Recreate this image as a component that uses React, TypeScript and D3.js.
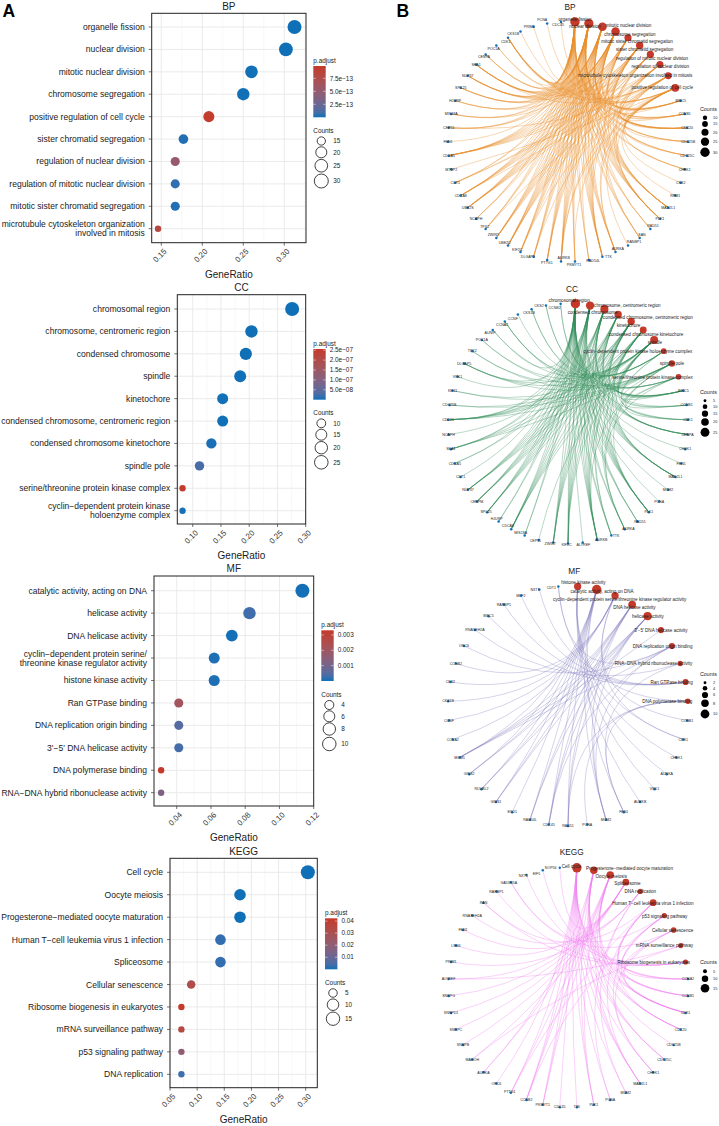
import React from "react";
import * as d3 from "d3";

const FONT = "'Liberation Sans', Arial, sans-serif";
const BLUE = "#0F70B7";
const RED = "#C5392A";

/* ---------- dot plot data ---------- */
const bpTerms = ["organelle fission","nuclear division","mitotic nuclear division","chromosome segregation","positive regulation of cell cycle","sister chromatid segregation","regulation of nuclear division","regulation of mitotic nuclear division","mitotic sister chromatid segregation","microtubule cytoskeleton organization\ninvolved in mitosis"];
const bpRatios = [0.3125,0.302,0.26,0.25,0.208,0.177,0.167,0.167,0.167,0.146];
const bpCounts = [30,29,25,24,20,17,16,16,16,14];
const bpPadj = [1e-15,1e-15,2e-15,2e-15,9.6e-13,2e-14,5.2e-13,4e-14,2e-14,8.3e-13];

const ccTerms = ["chromosomal region","chromosome, centromeric region","condensed chromosome","spindle","kinetochore","condensed chromosome, centromeric region","condensed chromosome kinetochore","spindle pole","serine/threonine protein kinase complex","cyclin\u2212dependent protein kinase\nholoenzyme complex"];
const ccRatios = [0.276,0.204,0.194,0.184,0.153,0.153,0.133,0.112,0.082,0.082];
const ccCounts = [27,20,19,18,15,15,13,11,8,8];
const ccPadj = [1e-12,1e-11,1e-11,1e-10,3e-10,1e-10,2e-9,2.6e-8,2.5e-7,1.5e-9];

const mfTerms = ["catalytic activity, acting on DNA","helicase activity","DNA helicase activity","cyclin\u2212dependent protein serine/\nthreonine kinase regulator activity","histone kinase activity","Ran GTPase binding","DNA replication origin binding","3'\u22125' DNA helicase activity","DNA polymerase binding","RNA\u2212DNA hybrid ribonuclease activity"];
const mfRatios = [0.1134,0.0825,0.0722,0.0619,0.0619,0.0412,0.0412,0.0412,0.0309,0.0309];
const mfCounts = [11,8,7,6,6,4,4,4,3,3];
const mfPadj = [1e-5,2.6e-4,1e-5,5e-5,5e-5,0.0021,5e-4,3e-4,0.0033,0.0012];

const keggTerms = ["Cell cycle","Oocyte meiosis","Progesterone\u2212mediated oocyte maturation","Human T\u2212cell leukemia virus 1 infection","Spliceosome","Cellular senescence","Ribosome biogenesis in eukaryotes","mRNA surveillance pathway","p53 signaling pathway","DNA replication"];
const keggRatios = [0.304,0.179,0.179,0.143,0.143,0.089,0.071,0.071,0.071,0.071];
const keggCounts = [17,10,10,8,8,5,4,4,4,4];
const keggPadj = [1e-10,1e-5,1e-5,0.002,0.002,0.032,0.042,0.034,0.02,0.003];

const bpTicks = [0.15,0.2,0.25,0.3];
const ccTicks = [0.1,0.15,0.2,0.25,0.3];
const mfTicks = [0.04,0.06,0.08,0.1,0.12];
const keggTicks = [0.05,0.1,0.15,0.2,0.25,0.3];

const bpColorTicks = [[7.5e-13,"7.5e\u221213"],[5e-13,"5.0e\u221213"],[2.5e-13,"2.5e\u221213"]] as [number,string][];
const ccColorTicks = [[2.5e-7,"2.5e\u221207"],[2e-7,"2.0e\u221207"],[1.5e-7,"1.5e\u221207"],[1e-7,"1.0e\u221207"],[5e-8,"5.0e\u221208"]] as [number,string][];
const mfColorTicks = [[0.003,"0.003"],[0.002,"0.002"],[0.001,"0.001"]] as [number,string][];
const keggColorTicks = [[0.04,"0.04"],[0.03,"0.03"],[0.02,"0.02"],[0.01,"0.01"]] as [number,string][];

const bpSizeLegend = [15,20,25,30];
const ccSizeLegend = [10,15,20,25];
const mfSizeLegend = [4,6,8,10];
const keggSizeLegend = [5,10,15];

/* ---------- dot plot layout ---------- */
const dotPanels = [
  { title:"BP", terms:bpTerms, ratios:bpRatios, counts:bpCounts, padj:bpPadj, ticks:bpTicks, step:0.05,
    box:[151.7,306,13.3,242.7], xDom:[0.1383,0.3265], rows:[27,228.7], padjMax:9.87e-13, colorTicks:bpColorTicks, sizes:bpSizeLegend,
    barX:313.3, barY:[66,117.3], sizeY:[141,152.3,165.7,181], countsY:130.7, fmt:".2f" },
  { title:"CC", terms:ccTerms, ratios:ccRatios, counts:ccCounts, padj:ccPadj, ticks:ccTicks, step:0.05,
    box:[177.3,305.7,294.7,524], xDom:[0.0727,0.3], rows:[309,510.7], padjMax:2.56e-7, colorTicks:ccColorTicks, sizes:ccSizeLegend,
    barX:313.3, barY:[349,399.7], sizeY:[423.3,434.7,447.7,462.3], countsY:413, fmt:".2f" },
  { title:"MF", terms:mfTerms, ratios:mfRatios, counts:mfCounts, padj:mfPadj, ticks:mfTicks, step:0.02,
    box:[154,313.7,576,806], xDom:[0.02674,0.12], rows:[590.7,792.7], padjMax:0.0033, colorTicks:mfColorTicks, sizes:mfSizeLegend,
    barX:321.3, barY:[630.3,681], sizeY:[705,716.3,729,744], countsY:694.7, fmt:".2f" },
  { title:"KEGG", terms:keggTerms, ratios:keggRatios, counts:keggCounts, padj:keggPadj, ticks:keggTicks, step:0.05,
    box:[170,317.3,858.3,1087.7], xDom:[0.05,0.3214], rows:[872.3,1074.3], padjMax:0.0423, colorTicks:keggColorTicks, sizes:keggSizeLegend,
    barX:325, barY:[918.3,969.3], sizeY:[993,1004.7,1018.7], countsY:982.7, fmt:".2f" },
];

const colorScale = d3.scaleLinear<string>().domain([0,1]).range([BLUE,RED]).interpolate(d3.interpolateLab);

function DotPanel({ p }: { p: any }) {
  const [l,r,t,b] = p.box;
  const x = d3.scaleLinear().domain(p.xDom).range([l,r]);
  const y = d3.scalePoint<string>().domain(p.terms).range(p.rows);
  const cMin = d3.min(p.counts as number[])!, cMax = d3.max(p.counts as number[])!;
  const size = d3.scaleSqrt().domain([0,cMax-cMin]).range([3.2,7]);
  const rad = (c:number)=>size(Math.max(0,c-cMin));
  const col = (v:number)=>colorScale(v/p.padjMax);
  const barLeg = d3.scaleLinear().domain([0,p.padjMax]).range([p.barY[1],p.barY[0]]);
  const first = p.ticks[0]-p.step*3;
  const minor = d3.range(0,12).map(i=>first+p.step*(i+0.5)).filter(v=>x(v)>l&&x(v)<r);
  const gid = "grad"+p.title;
  const fmt = d3.format(p.fmt);
  return (
    <g fontFamily={FONT}>
      <defs>
        <linearGradient id={gid} x1="0" x2="0" y1="1" y2="0">
          {d3.range(0,1.001,0.1).map(o=><stop key={o} offset={o} stopColor={colorScale(o)} />)}
        </linearGradient>
      </defs>
      <text x={(l+r)/2} y={t-3.6} textAnchor="middle" fontSize={10} fill="#222">{p.title}</text>
      <rect x={l} y={t} width={r-l} height={b-t} fill="#fff"/>
      {minor.map((v:number,i:number)=><line key={i} x1={x(v)} x2={x(v)} y1={t} y2={b} stroke="#f0f0f0" strokeWidth={0.5}/>)}
      {p.ticks.map((v:number)=>x(v)<r-0.5?<line key={v} x1={x(v)} x2={x(v)} y1={t} y2={b} stroke="#e8e8e8" strokeWidth={0.9}/>:null)}
      {p.terms.map((s:string)=><line key={s} x1={l} x2={r} y1={y(s)} y2={y(s)} stroke="#e8e8e8" strokeWidth={0.9}/>)}
      {p.terms.map((s:string,i:number)=><circle key={s} cx={x(p.ratios[i])} cy={y(s)} r={rad(p.counts[i])} fill={col(p.padj[i])}/>)}
      <rect x={l} y={t} width={r-l} height={b-t} fill="none" stroke="#222" strokeWidth={1}/>
      {p.terms.map((s:string)=><line key={s} x1={l-3} x2={l} y1={y(s)} y2={y(s)} stroke="#333" strokeWidth={0.7}/>)}
      {p.terms.map((s:string)=>{
        const parts = s.split("\n");
        return <text key={s} textAnchor="end" fontSize={8.55} fill="#1a1a1a">
          {parts.map((q,j)=><tspan key={j} x={l-7} y={y(s)!+3+(j-(parts.length-1)/2)*9}>{q}</tspan>)}
        </text>;
      })}
      {p.ticks.map((v:number)=><g key={v}>
        <line x1={x(v)} x2={x(v)} y1={b} y2={b+3} stroke="#333" strokeWidth={0.7}/>
        <text transform={`translate(${x(v)+3},${b+6.5}) rotate(-45)`} textAnchor="end" dy="0.5em" fontSize={7.9} fill="#333">{fmt(v)}</text>
      </g>)}
      <text x={(l+r)/2} y={b+35.4} textAnchor="middle" fontSize={10} fill="#1a1a1a">GeneRatio</text>
      <text x={p.barX} y={p.barY[0]-3} fontSize={6.4} fill="#222">p.adjust</text>
      <rect x={p.barX} y={p.barY[0]} width={12.4} height={p.barY[1]-p.barY[0]} fill={`url(#${gid})`}/>
      {p.colorTicks.map(([v,s]:[number,string])=><g key={s}>
        <line x1={p.barX} x2={p.barX+2.5} y1={barLeg(v)} y2={barLeg(v)} stroke="#fff" strokeWidth={0.5}/>
        <line x1={p.barX+9.9} x2={p.barX+12.4} y1={barLeg(v)} y2={barLeg(v)} stroke="#fff" strokeWidth={0.5}/>
        <text x={p.barX+16.4} y={barLeg(v)+2.2} fontSize={6.4} fill="#222">{s}</text>
      </g>)}
      <text x={p.barX} y={p.countsY+2.2} fontSize={6.4} fill="#222">Counts</text>
      {p.sizes.map((c:number,i:number)=><g key={c}>
        <circle cx={p.barX+8} cy={p.sizeY[i]} r={rad(c)} fill="#fff" stroke="#111" strokeWidth={0.8}/>
        <text x={p.barX+20} y={p.sizeY[i]+2.2} fontSize={6.4} fill="#222">{c}</text>
      </g>)}
    </g>
  );
}

/* ---------- network data: categories, genes, per-gene category membership ---------- */
const bpCats = ["organelle fission","nuclear division","mitotic nuclear division","chromosome segregation","mitotic sister chromatid segregation","sister chromatid segregation","regulation of mitotic nuclear division","regulation of nuclear division","microtubule cytoskeleton organization involved in mitosis","positive regulation of cell cycle"];
const bpCatCounts = [30,29,25,24,16,17,16,16,14,20];
const bpGenes = ["BIRC5","CCNB1","CDC20","CDC25B","CDC25C","CHEK1","CKS2","RRM1","MAD2L1","PLK1","RAD51","SAN","RANBP1","AURKA","TTK","RAD54L","PKMYT1","AURKB","PTTG1","DLGAP5","KIF2C","UBE2C","ZWINT","TPX2","NCAPH","UBE2S","CDCA8","CDT1","MTBP2","CDCA5","FEN1","CEP55","MIS18A","HJURP","SPC25","NUP37","SKA1","CENPA","POC1A","CDK1","CKS1B","PRIM1","PCNA","CDC45"];
const bpMembership = ["0123458","012679","01234567","0129","0129","019","9","9","01234567","012345789","013","0135","9","012389","01234567","013","0129","01234589","012345","01238","012358","01234567","0123456","0128","013","01234567","0123458","0167","9","01234567","1","0128","013","013","0123","012345","0123458","013","08","0126789","9","0","9","9"];
const bpCatNudge = [[0,-3],[-4,3.3],[26,-1],[14.3,2.7],[9,4],[5,4],[1.7,3.7],[0.3,1.7],[-33,0],[-13,0]];
const bpGeneNudge: Record<string,number[]> = {RAD51:[2.7,-3.3],SAN:[2.3,-3.3],RANBP1:[6,-3.7],AURKA:[2.3,-2.7],TTK:[6,0],RAD54L:[4.3,1],PKMYT1:[-1,3.7],AURKB:[2.7,-3.7],PTTG1:[-0.3,3.3],DLGAP5:[-5.7,0],KIF2C:[-3.3,-2.3],UBE2C:[-3.3,-3.3],ZWINT:[-3,-3.3],TPX2:[-1,-2],CDK1:[-2.3,3.7],CKS1B:[-7.3,2.7],PRIM1:[-4.3,0],PCNA:[-5,-3.3],CDC45:[-3,3.3],POC1A:[-2.7,3.7],CENPA:[-1.7,2]};

const ccCats = ["chromosomal region","chromosome, centromeric region","condensed chromosome","condensed chromosome, centromeric region","kinetochore","condensed chromosome kinetochore","spindle","cyclin\u2212dependent protein kinase holoenzyme complex","spindle pole","serine/threonine protein kinase complex"];
const ccCatCounts = [27,20,19,15,15,13,18,8,11,8];
const ccGenes = ["BIRC5","CCNB1","CDK1","CENPA","CHEK1","FEN1","MAD2L1","MCM2","PCNA","PLK1","RAD51","AURKA","TTK","AURKB","ALYREF","KIF2C","ZWINT","CEP55","MIS18A","CDCA8","HJURP","SPC25","CENPM","NUP37","CDT1","CDCA5","SKA1","NCAPH","CDC20","CDC25B","KIF11","VRK1","DLGAP5","TPX2","POC1A","AUNIP","CCNA2","CCNF","CKS1B","CKS2","CCNB2"];
const ccMembership = ["01234568","2679","0679","012345","0","0","0123456","0","0","01234568","012","01689","0145","01234568","0","0123456","012345","6","01","0123456","01","012345","012345","012345","0","02","01468","2","0134568","68","68","0","1468","68","68","06","679","7","79","79","79"];
const ccCatNudge = [[-6.3,-3.3],[37.3,-0.3],[-11.7,3.3],[29.7,3.3],[-2.7,4.3],[2.7,4.3],[0.7,2.3],[-26,0],[0,0],[-26,0.3]];
const ccGeneNudge: Record<string,number[]> = {CKS2:[-7,0],CCNB2:[-6,4],CKS1B:[-2.7,3.7],CCNF:[-5,4],CCNA2:[-2.7,3.7],AUNIP:[-2.7,3],RAD51:[2.7,0],AURKA:[3.7,0],TTK:[4.7,0],AURKB:[4,0],ALYREF:[0.7,2.7],KIF2C:[-1.5,1],ZWINT:[-3,1],CEP55:[-3.3,0.7],MIS18A:[-4,-2.3],CDCA8:[-3.3,-3],HJURP:[-2,-3],SPC25:[-1,-0.7]};

const mfCats = ["histone kinase activity","catalytic activity, acting on DNA","cyclin\u2212dependent protein serine/threonine kinase regulator activity","DNA helicase activity","helicase activity","3'\u22125' DNA helicase activity","DNA replication origin binding","RNA\u2212DNA hybrid ribonuclease activity","Ran GTPase binding","DNA polymerase binding"];
const mfCatCounts = [6,11,6,7,8,4,4,3,4,3];
const mfGenes = ["CCNB1","CDK1","CHEK1","AURKA","VRK1","AURKB","FEN1","MCM2","PCNA","RAD51","CDC45","RAD54L","EXO1","GINS1","RUVBL2","GINS2","MCM5","CCNA2","CCNF","CKS1B","CKS2","CCNB2","ORC6","RNASEH2A","BIRC5","RANBP1","MLF2","NXT1","CDT1"];
const mfMembership = ["2","02","0","0","0","0","179","1346","9","1349","1346","134","1","134","134","134","13456","2","2","2","2","2","6","7","8","8","8","8","69"];
const mfCatNudge = [[5.7,-3.7],[5.3,2.3],[4.7,3.3],[2.3,2.7],[0.3,0.3],[0,0.3],[-9.3,0.3],[-26.7,0.3],[-14,0],[-20.7,0]];
const mfGeneNudge: Record<string,number[]> = {NXT1:[-4.3,0.7],CDT1:[-7,1.3]};

const keggCats = ["Cell cycle","Progesterone\u2212mediated oocyte maturation","Oocyte meiosis","Spliceosome","DNA replication","Human T\u2212cell leukemia virus 1 infection","p53 signaling pathway","Cellular senescence","mRNA surveillance pathway","Ribosome biogenesis in eukaryotes"];
const keggCatCounts = [17,10,10,8,4,8,4,5,4,4];
const keggGenes = ["CCNA2","CCNB1","CDK1","CDC20","CDC25B","CDC25C","CHEK1","MAD2L1","MCM2","PCNA","PLK1","TTK","CDC45","PKMYT1","CCNB2","PTTG1","ORC6","AURKA","MAGOH","SNRPB","SNRPC","SNRPD1","SNRPG","ALYREF","PRIM1","LSM4","FEN1","RNASEH2A","RAN","RANBP1","GADD45A","NXT1","EIF5","NOP56"];
const keggMembership = ["0157","0126","012567","0125","1","012","067","0125","04","04","012","0","0","012","0126","025","0","12","38","3","3","3","3","38","4","3","4","4","59","9","67","9","9","3"];
const keggCatNudge = [[-5.3,-1],[35.7,-2.3],[1,1],[1.7,1.7],[0,0],[-0.3,0.3],[0.3,0.7],[-1,0.3],[-16.3,0],[-31.7,0.3]];
const keggGeneNudge: Record<string,number[]> = {NOP56:[-9,0],EIF5:[-6.3,3.3],NXT1:[-3,1],GADD45A:[-2,0.7],PTTG1:[-1,-1]};

const bpNetLegend = [10,15,20,25,30];
const ccNetLegend = [5,10,15,20,25];
const mfNetLegend = [2,4,6,8,10];
const keggNetLegend = [5,10,15];

const netPanels = [
  { title:"BP", titleX:570, cats:bpCats, catCounts:bpCatCounts, genes:bpGenes, member:bpMembership, catNudge:bpCatNudge, geneNudge:bpGeneNudge,
    cx:568, cy:141.7, edge:"#E88F2E", edgeOpacity:0.6, catFont:4.55, legend:bpNetLegend, legendTitleY:108.7, legendY:[117.7,124,132.3,141.7,152.3], titleY:10 },
  { title:"CC", titleX:572, cats:ccCats, catCounts:ccCatCounts, genes:ccGenes, member:ccMembership, catNudge:ccCatNudge, geneNudge:ccGeneNudge,
    cx:568, cy:423.5, edge:"#2E8B57", edgeOpacity:0.55, catFont:4.55, legend:ccNetLegend, legendTitleY:391.7, legendY:[400.7,406.7,413.7,422,432.3], titleY:292 },
  { title:"MF", titleX:574.3, cats:mfCats, catCounts:mfCatCounts, genes:mfGenes, member:mfMembership, catNudge:mfCatNudge, geneNudge:mfGeneNudge,
    cx:568, cy:706, edge:"#7E78BC", edgeOpacity:0.55, catFont:4.55, legend:mfNetLegend, legendTitleY:674, legendY:[682.7,688.3,695,703.3,714], titleY:574 },
  { title:"KEGG", titleX:571.7, cats:keggCats, catCounts:keggCatCounts, genes:keggGenes, member:keggMembership, catNudge:keggCatNudge, geneNudge:keggGeneNudge,
    cx:568.3, cy:987.5, edge:"#F07EF0", edgeOpacity:0.6, catFont:4.6, legend:keggNetLegend, legendTitleY:961.7, legendY:[971.3,978.7,988.3], titleY:855 },
];

function NetPanel({ p }: { p:any }) {
  const R = 120;
  const n = p.cats.length + p.genes.length;
  const ang = d3.scaleLinear().domain([0,n]).range([0,2*Math.PI]);
  const pos = (i:number):[number,number] => {
    const a = ang(i+0.5);
    return [p.cx+R*Math.sin(a), p.cy-R*Math.cos(a)];
  };
  const maxC = d3.max(p.catCounts as number[])!;
  const rs = d3.scalePow().exponent(0.7).domain([0,maxC]).range([0,4.7]);
  const rc = d3.scaleSqrt().domain([0,maxC]).range([0.6,4.7]);
  const nc = p.cats.length;
  const links: {d:string,k:string}[] = [];
  p.member.forEach((m:string,gi:number)=>{
    m.split("").forEach((ch:string)=>{
      const [x0,y0] = pos(nc+gi);
      const [x1,y1] = pos(+ch);
      const path = d3.path();
      path.moveTo(x0,y0);
      path.quadraticCurveTo(p.cx,p.cy-6,x1,y1);
      links.push({d:path.toString(),k:gi+"-"+ch});
    });
  });
  return (
    <g fontFamily={FONT}>
      <text x={p.titleX} y={p.titleY} textAnchor="middle" fontSize={8.3} fill="#222">{p.title}</text>
      <g fill="none" stroke={p.edge} strokeWidth={0.6} strokeOpacity={p.edgeOpacity}>
        {links.map(l=><path key={l.k} d={l.d}/>)}
      </g>
      {p.genes.map((g:string,i:number)=>{
        const [x,y] = pos(nc+i);
        return <circle key={g} cx={x} cy={y} r={1.25} fill={BLUE}/>;
      })}
      {p.cats.map((c:string,i:number)=>{
        const [x,y] = pos(i);
        return <circle key={c} cx={x} cy={y} r={rc(p.catCounts[i])} fill={RED}/>;
      })}
      {p.genes.map((g:string,i:number)=>{
        const [x,y] = pos(nc+i);
        const [dx,dy] = p.geneNudge[g] ?? [0,0];
        return <text key={g} x={x+dx} y={y+dy+1.2} textAnchor="middle" fontSize={3.6} fill="#222">{g}</text>;
      })}
      {p.cats.map((c:string,i:number)=>{
        const [x,y] = pos(i);
        const [dx,dy] = p.catNudge[i];
        return <text key={c} x={x+dx} y={y+dy+1.6} textAnchor="middle" fontSize={p.catFont} fill="#1a1a1a">{c}</text>;
      })}
      <text x={700} y={p.legendTitleY+1.9} fontSize={5.3} fill="#222">Counts</text>
      {p.legend.map((c:number,i:number)=><g key={c}>
        <circle cx={705} cy={p.legendY[i]} r={rs(c)} fill="#000"/>
        <text x={713} y={p.legendY[i]+1.4} fontSize={3.9} fill="#222">{c}</text>
      </g>)}
    </g>
  );
}

export default function App() {
  return (
    <svg width={719} height={1126} viewBox="0 0 719 1126" style={{position:"absolute",left:0,top:0,background:"#fff"}}>
      <text x={2.5} y={17.3} fontFamily={FONT} fontWeight="bold" fontSize={17.5} fill="#000">A</text>
      <text x={396.5} y={17.3} fontFamily={FONT} fontWeight="bold" fontSize={17.5} fill="#000">B</text>
      {dotPanels.map(p=><DotPanel key={p.title} p={p}/>)}
      {netPanels.map(p=><NetPanel key={p.title} p={p}/>)}
    </svg>
  );
}
